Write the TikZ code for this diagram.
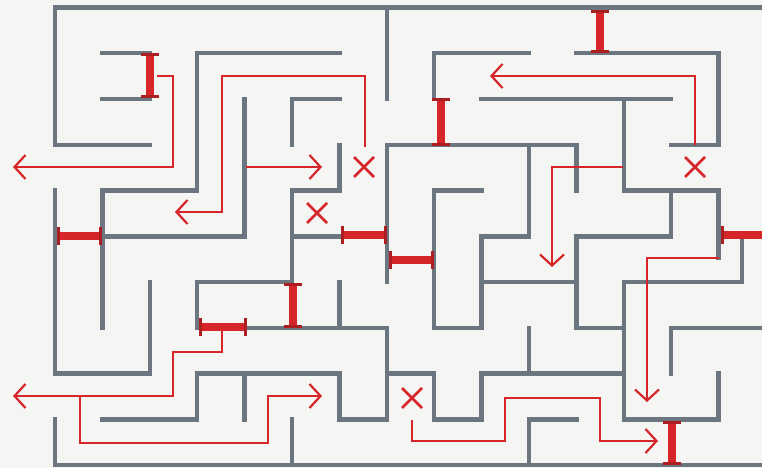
\documentclass[tikz,border=0pt]{standalone}
\usetikzlibrary{arrows.meta}
\definecolor{wallgray}{RGB}{108,118,128}
\definecolor{mzred}{RGB}{214,38,42}
\definecolor{bgpaper}{RGB}{245,245,243}
\tikzset{
  wall/.style={draw=wallgray, line width=4.5pt, line cap=rect, line join=miter},
  route/.style={draw=mzred, line width=2.2pt, line join=miter},
  routearrow/.style={route, -{Straight Barb[length=11pt,width=24pt]}},
  redbar/.style={draw=mzred, line width=8.5pt},
  barcap/.style={draw=mzred!80!black, line width=3pt},
  xmark/.style={draw=mzred, line width=2.8pt},
}
\newcommand{\mzbarh}[3]{% y, x1, x2
  \draw[redbar] ({#2},{#1}) -- ({#3},{#1});
  \draw[barcap] ({#2},{#1-9}) -- ({#2},{#1+9});
  \draw[barcap] ({#3},{#1-9}) -- ({#3},{#1+9});}
\newcommand{\mzbarv}[3]{% x, y1, y2
  \draw[redbar] ({#1},{#2}) -- ({#1},{#3});
  \draw[barcap] ({#1-9},{#2}) -- ({#1+9},{#2});
  \draw[barcap] ({#1-9},{#3}) -- ({#1+9},{#3});}
\newcommand{\mzcross}[2]{%
  \draw[xmark] ({#1-10},{#2-10}) -- ({#1+10},{#2+10});
  \draw[xmark] ({#1-10},{#2+10}) -- ({#1+10},{#2-10});}
\begin{document}
\begin{tikzpicture}[x=1pt,y=-1pt]
\fill[bgpaper] (0,0) rectangle (762,468);
\useasboundingbox (0,0) rectangle (762,468);
% ---------------- walls (grid units) ----------------
\begin{scope}[shift={(55,7.5)},x=47.4pt,y=-45.75pt]
  \draw[wall] (0,0) -- (15,0);
  \draw[wall] (0,0) -- (0,3) -- (2,3);
  \draw[wall] (1,1) -- (2,1);
  \draw[wall] (1,2) -- (2,2);
  \draw[wall] (6,1) -- (3,1) -- (3,4) -- (1,4) -- (1,7);
  \draw[wall] (4,2) -- (4,5) -- (1,5);
  \draw[wall] (7,0) -- (7,2);
  \draw[wall] (5,3) -- (5,2) -- (6,2);
  \draw[wall] (6,3) -- (6,4) -- (5,4) -- (5,6) -- (3,6) -- (3,7);
  \draw[wall] (5,5) -- (6,5);
  \draw[wall] (6,6) -- (6,7);
  \draw[wall] (4,7) -- (7,7) -- (7,9) -- (6,9) -- (6,8) -- (3,8) -- (3,9) -- (1,9);
  \draw[wall] (4,8) -- (4,9);
  \draw[wall] (2,6) -- (2,8) -- (0,8) -- (0,4);
  \draw[wall] (0,9) -- (0,10) -- (15,10);
  \draw[wall] (5,9) -- (5,10);
  \draw[wall] (7,8) -- (8,8) -- (8,9) -- (9,9) -- (9,8) -- (12,8);
  \draw[wall] (10,7) -- (10,8);
  \draw[wall] (7,6) -- (7,3) -- (11,3) -- (11,4);
  \draw[wall] (8,2) -- (8,1) -- (10,1);
  \draw[wall] (9,2) -- (13,2);
  \draw[wall] (9,4) -- (8,4) -- (8,7) -- (9,7) -- (9,5) -- (10,5) -- (10,3);
  \draw[wall] (9,6) -- (11,6);
  \draw[wall] (12,2) -- (12,4) -- (14,4) -- (14,5.475);
  \draw[wall] (13,4) -- (13,5) -- (11,5) -- (11,7) -- (12,7);
  \draw[wall] (14.49,5.1) -- (14.49,6) -- (12,6) -- (12,9) -- (14,9) -- (14,8);
  \draw[wall] (13,8) -- (13,7) -- (15,7);
  \draw[wall] (11,9) -- (10,9) -- (10,10);
  \draw[wall] (11,1) -- (14,1) -- (14,3) -- (13,3);
\end{scope}
% ---------------- red routes ----------------
\draw[routearrow] (157,76) -- (173,76) -- (173,167) -- (13,167);
\draw[routearrow] (365,147) -- (365,76) -- (222,76) -- (222,212) -- (175,212);
\draw[routearrow] (246,167) -- (322,167);
\draw[routearrow] (695,145) -- (695,76) -- (490,76);
\draw[routearrow] (623,167) -- (552,167) -- (552,267);
\draw[routearrow] (719,258) -- (647,258) -- (647,402);
\draw[routearrow] (222,331) -- (222,352) -- (173,352) -- (173,396) -- (13,396);
\draw[routearrow] (80,396) -- (80,443) -- (268,443) -- (268,396) -- (322,396);
\draw[routearrow] (412,420) -- (412,441) -- (505,441) -- (505,398) -- (600,398) -- (600,441) -- (658,441);
% ---------------- red barriers ----------------
\mzbarv{150}{55}{97}
\mzbarh{236}{58}{100}
\mzbarv{600}{12}{52}
\mzbarv{441}{100}{144}
\mzbarh{235}{342}{385}
\mzbarh{260}{390}{432}
\mzbarv{293}{284}{326}
\mzbarh{327}{200}{245}
\draw[redbar] (722,235) -- (766,235);
\draw[barcap] (722,226) -- (722,244);
\mzbarv{672}{422}{463}
% ---------------- dead ends ----------------
\mzcross{364}{167}
\mzcross{317}{213}
\mzcross{695}{167}
\mzcross{412}{398}
\end{tikzpicture}
\end{document}
